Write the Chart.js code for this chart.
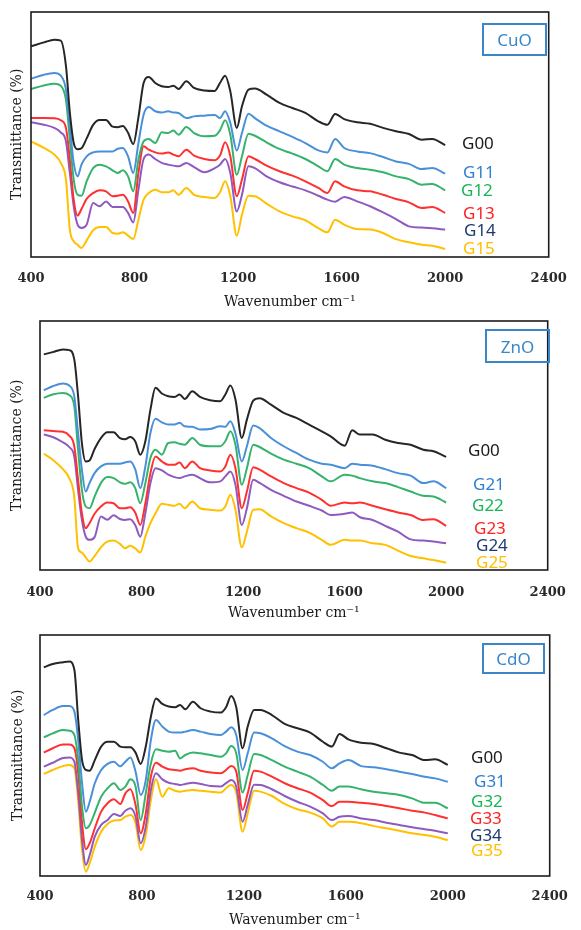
<!DOCTYPE html>
<html>
<head>
<meta charset="utf-8">
<title>FTIR spectra</title>
<script src="https://cdn.jsdelivr.net/npm/chart.js@4.4.1/dist/chart.umd.min.js"></script>
<style>
  html, body { margin: 0; padding: 0; background: #fff; }
  #page { position: relative; width: 581px; height: 930px; overflow: hidden; }
  #page canvas { position: absolute; left: 0; }
  .lbl { position: absolute; font-family: 'Noto Sans', sans-serif; font-size: 17px; line-height: 20px; white-space: nowrap; }
  .tag { position: absolute; box-sizing: border-box; border: 2px solid #3a86c8; color: #3a86c8;
         font-family: 'Noto Sans', sans-serif; font-size: 17px; display: flex; align-items: center; justify-content: center; }
</style>
</head>
<body>
<div id="page"></div>
<script>
// Wavenumber grids (cm-1) for each panel
const wnCuO = [400,450,490,515,535,550,565,580,595,615,640,665,690,715,735,755,775,795,815,835,855,880,905,930,950,970,1000,1030,1070,1110,1130,1150,1170,1195,1215,1240,1265,1310,1360,1410,1460,1510,1545,1575,1610,1660,1710,1760,1810,1860,1910,1950,2000];
const wnZnO = [415,450,490,515,535,550,565,580,595,615,640,665,690,715,735,755,775,795,815,835,855,880,905,930,950,970,1000,1030,1070,1110,1130,1150,1170,1195,1215,1240,1265,1310,1360,1410,1460,1510,1545,1600,1630,1660,1710,1760,1810,1860,1910,1950,2000];
const wnCdO = [415,450,490,515,535,550,565,580,595,615,640,665,690,715,735,755,775,795,815,835,855,880,905,930,950,970,1000,1030,1070,1110,1130,1150,1170,1195,1215,1240,1265,1310,1360,1410,1460,1510,1545,1575,1610,1660,1710,1760,1810,1860,1910,1950,2000];

// Transmittance (arbitrary units, offset stacked) - CuO panel
const cuoG00 = [86,87.6,88.7,88.3,78,59,46.5,44,44.4,48.4, 53.9,55.9,55.9,53.2,53,53.5,50.7,46.1,57,71, 73.5,71,69.7,69.4,69.9,68.6,71.7,69,68,67.8, 71,74,67.6,52.7,61.5,68.3,68.8,66.3,62.9,60.8, 58.8,55.4,54,58.4,56.3,55,54.4,52.7,51.3,50.2, 47.9,48.2,45.7];
const cuoG11 = [72.7,74.4,75.1,74,68.3,53.3,38.4,32.9,37.7,41.1, 42.7,43.1,43.1,43.1,44.2,44.5,41.1,34.3,46.5,58.1, 61.2,59.5,59,59.5,59,58.8,56.7,57.4,57.7,58, 56.7,59.5,54.7,43.5,50.6,58.5,56.7,53.6,51.3,49, 46.5,43.5,42.7,48.2,44.5,43.1,42.4,40.8,39,38, 35.9,36.3,34];
const cuoG12 = [68.6,70,70.7,69.9,64.2,47.9,31.6,25.4,25,30.9, 36.3,37.7,37,35.4,34.3,35.4,32.9,26.8,39.7,47.2, 48.2,46.5,50.9,50.6,51.6,49.9,53.1,50.6,49.3,49.5, 51.7,55.8,49.9,33.6,41.1,50.3,49.5,46.8,44.1,42.2, 40,37,35,40,37.7,36.3,35.6,34.6,32.9,31.8, 29.5,29.8,27.2];
const cuoG13 = [56.7,56.7,56.6,55.8,52.7,39.7,23.4,16.9,19.6,23.7, 26.1,27.2,26.8,24.8,25,25.4,22.7,18,34.3,45.2, 43.8,42.7,42.2,42.7,41.8,41.1,43.8,41.4,40,39.5, 41.4,46.8,41.1,24.8,31.6,41.1,40,37.3,35,33.2, 30.9,28.2,26.1,30.9,28.8,27.2,26.8,25.4,23.7,22.3, 20,20.4,18];
const cuoG14 = [55,54,52.7,50.9,47.2,34.3,20.7,13.2,11.8,13.2, 22,20.7,22.7,20.4,20.4,20.4,18,14.1,27.5,40, 41.8,40,38.4,37.7,37.3,37,38.4,36.7,34.6,36.3, 37.7,40,34.3,18.6,25.4,37,36.3,32.9,30.5,28.8, 27.2,25,23.4,22.6,24.5,22.7,20.7,18.2,15.5,12.5, 12,11.7,11.2];
const cuoG15 = [47.2,44.5,41.8,38.4,31.6,11.2,6.4,5,3.7,6.8, 10.9,12.2,12.2,9.8,9.5,10.1,8.7,7.3,15.2,23.4, 26.1,27.5,26.4,26.4,27.2,25.4,28.2,25.4,24.5,24.1, 26.4,30.9,24.8,8.7,17.3,25,24.8,21.8,18.6,16.6, 15,11.8,10.1,15.2,13.2,11.4,11.2,9.8,7.3,6, 5,4.6,3.3];

// ZnO panel
const znoG00 = [86.6,87.5,88.6,88.3,84.6,69.8,51,43.6,44,48.6, 53,55.3,55.3,53,52.5,53.4,51.7,46.3,51.7,64.4, 73.2,70.9,69.8,69.5,70.5,68.7,71.8,69.5,68.2,67.8, 70.5,74.1,68.5,53,60.4,68,69,66.4,63.1,61.1, 58.4,55.7,53.7,49.9,56.1,54.4,54.4,52.3,51,50.3, 48.3,47.7,45.4];
const znoG21 = [72.2,73.8,74.9,74.1,69.8,55,40.3,31.5,34.9,38.9, 41.6,42.7,42.7,42.7,43.2,43.6,40.5,32.9,41.6,55, 60.7,59.3,58.4,58.4,59.1,57.7,57.5,56.4,56.6,57.7, 57.5,59.7,54.8,43.6,49.7,58,57,53,49.7,47, 44.3,42.7,42.3,40.9,42.7,42.3,41.9,40.5,38.9,37.9, 34.9,35.6,32.9];
const znoG22 = [69.1,70.5,71.1,70.3,65.8,48.3,32.2,25.5,24.8,29.5, 34.9,37.3,36.9,35.2,34.6,35.2,32.9,26.8,34.9,45, 48.3,46.3,51,51.3,50.7,50.3,53,50.3,49.7,49.7, 51.7,55.7,50.3,34.2,40.9,50.3,49.4,46.7,44.3,42.7, 40.9,37.6,35.6,38.3,37.9,36.9,35.6,34.9,33.3,31.5, 29.8,29.5,27.1];
const znoG23 = [56.1,55.8,55.5,54,49.7,36.2,22.8,16.8,18.8,22.6, 25.5,27.1,26.8,24.8,24.8,25.2,23.1,18.1,26.8,38.9, 45.6,43.6,42.3,42.3,43.2,40.9,43.6,40.9,40,39.6, 41.6,46.3,40.9,24.8,31.5,41.3,40.3,37.6,34.9,32.9, 31.1,28.2,25.8,27.1,26.8,27.1,25.8,24.4,23.1,22.1, 20.1,20.4,17.7];
const znoG24 = [54.4,53.4,51.3,49.4,45.6,32.2,20.1,13.4,12.1,13.2, 21.5,20.2,22,20.5,20.1,20.4,18.1,13.4,22.8,34.9, 40.9,40,38.3,37.3,36.9,37.6,38.3,36.9,35.2,35.6, 37.6,39.6,34.2,18.1,24.8,36.2,35,32.2,29.8,27.5, 25.8,23.9,22.1,22.6,23.1,21.2,20.1,17.7,15.4,12.3, 11.8,11.4,10.7];
const znoG25 = [46.7,44.3,40.5,36.9,29.5,8.7,7,5.1,3.4,5.6, 9.1,11.4,11.8,10.5,8.7,9.7,8.7,7,13.4,18.8, 22.8,26.6,26.2,25.8,26.6,24.8,27.5,24.8,24.2,23.9, 25.5,30.2,24.2,9.1,15.4,24.2,24.4,21.5,18.8,16.8, 15,12.1,10.1,12.1,11.8,11.8,10.7,10.1,7.8,5.6, 4.7,4,2.9];

// CdO panel
const cdoG00 = [86.6,88,88.7,89,85.5,64.7,48.1,44,43.7,48.1, 53.7,55.7,55.7,53.7,53.4,53.4,51.2,46.5,53.7,66.1, 73.6,71.4,70.3,70,71,69.2,72.3,69.6,68.2,67.8, 70,74.7,70,53,62,68.9,68.9,66.8,63.1,61.3, 59.5,55.7,53.7,58.9,56.7,55.3,54.8,53,51.2,50.2, 48.1,48.4,46.1];
const cdoG31 = [66.8,68.9,70.5,70.5,68.2,56.4,38.5,26.7,30.8,38.5, 44,46.5,47.4,45.5,47.4,49.2,43.3,33.6,39.8,56.4, 64.7,62,59.9,59.5,59.5,59.9,60.6,59.9,58.9,58.5, 59.9,61.7,58.5,44,50.9,59.5,59.2,57.1,53.9,51.6, 50.2,47.4,44.7,46.7,48.1,45.6,45.1,44.3,43.3,42.3, 41.2,40.5,39.1];
const cdoG32 = [57.5,59.2,60.6,60.3,58.5,48.1,28.8,19.8,21.2,26.3, 32.9,36.4,38.5,35.7,37.1,40.1,37.1,23.2,34.3,46.7, 52.6,52,51.6,52,48.8,50.2,51.2,50.9,50.2,49.5, 50.9,53.9,50.9,34.6,41.9,50.6,50.2,48.1,45.4,43.3, 41.2,37.8,35.4,37.1,37.1,36,35,34.3,33.6,32.2, 30.4,30.4,28.1];
const cdoG33 = [51.2,53,54.6,54.6,53,42.6,21.9,11.1,13.6,19.8, 26.7,30.2,31.8,29.9,34.3,36,29.5,17.7,26,41.2, 47,45.4,44.3,44,43.7,44.3,44.7,43.7,42.9,42.6, 44,45.6,43.3,27.4,34.3,43.7,43.3,41.2,38.5,36.4, 34.6,31.5,29,30.8,30.8,30.4,29.9,29,28.1,27.1, 26.3,25.3,23.9];
const cdoG34 = [45.4,47,49,49.2,47.4,34.3,14.9,4.6,8.7,16.3, 21.2,23.2,25.7,24.9,27.1,28.1,24.6,13.6,20.5,35.7, 42.6,40.1,38.7,38.2,37.8,38.2,38.7,38.2,37.3,37.1, 38.5,39.8,37.1,22.5,29.5,37.9,37.8,36,33.2,30.8, 28.8,26,23.2,24.6,24.9,23.9,23.2,22.1,21.2,20.2, 19.4,18.8,17.7];
const cdoG35 = [42.3,44,45.6,46.1,44.7,30.8,10.8,1.8,5.3,12.2, 18.4,21.6,23,23.2,24.6,25.3,21.9,10.8,17,31.5, 40.1,32.9,36.4,35.4,35,35.4,35.7,35.4,35,34.6, 36.4,37.8,34.6,18.4,26,35.4,35,33.2,29.9,27.7, 26.3,23.9,20.5,22.5,22.5,21.9,20.7,19.8,18.8,17.7, 17,16.3,14.9];

const xTicks = [400, 800, 1200, 1600, 2000, 2400];

// Series colours (line / label)
const lineColors = ['#262626', '#4a90d9', '#35b36c', '#ff3030', '#8e5ac0', '#ffc000'];
const labelColors = ['#1a1a1a', '#2f80cf', '#19b45a', '#ff1f1f', '#1f3a6e', '#ffc000'];

// Layout of the three panels (absolute page pixels)
const panels = [
  { tag: 'CuO', wn: wnCuO, series: [cuoG00, cuoG11, cuoG12, cuoG13, cuoG14, cuoG15],
    names: ['G00', 'G11', 'G12', 'G13', 'G14', 'G15'],
    top: 0, height: 312, area: { left: 31, top: 12, right: 558, bottom: 257 },
    tickPad: 14.2, titlePad: 1.2, yTitlePad: 9.2,
    box: { left: 482, top: 23, w: 65, h: 33 },
    labels: [[462, 143], [463, 172], [461, 190], [463, 213], [464, 230], [463, 248]] },
  { tag: 'ZnO', wn: wnZnO, series: [znoG00, znoG21, znoG22, znoG23, znoG24, znoG25],
    names: ['G00', 'G21', 'G22', 'G23', 'G24', 'G25'],
    top: 310, height: 312, area: { left: 40, top: 11, right: 563, bottom: 260 },
    tickPad: 15.2, titlePad: 0.2, yTitlePad: 9.2,
    box: { left: 485, top: 329, w: 65, h: 34 },
    labels: [[468, 450], [473, 484], [472, 505], [474, 528], [476, 545], [476, 562]] },
  { tag: 'CdO', wn: wnCdO, series: [cdoG00, cdoG31, cdoG32, cdoG33, cdoG34, cdoG35],
    names: ['G00', 'G31', 'G32', 'G33', 'G34', 'G35'],
    top: 622, height: 308, area: { left: 40, top: 13, right: 558.5, bottom: 254 },
    tickPad: 13.2, titlePad: 1.2, yTitlePad: 10,
    box: { left: 482, top: 643, w: 63, h: 31 },
    labels: [[471, 757], [474, 781], [471, 801], [470, 818], [470, 835], [471, 850]] }
];

// Draws the rectangular frame round the plot area
const framePlugin = {
  id: 'frame',
  afterDraw(chart) {
    const { ctx, chartArea: a } = chart;
    ctx.save();
    ctx.strokeStyle = '#1c1c1c';
    ctx.lineWidth = 1.6;
    ctx.strokeRect(a.left, a.top, a.right - a.left, a.bottom - a.top);
    ctx.restore();
  }
};

const page = document.getElementById('page');
const serif = 'DejaVu Serif';

panels.forEach(p => {
  const canvas = document.createElement('canvas');
  canvas.width = 581;
  canvas.height = p.height;
  canvas.style.top = p.top + 'px';
  page.appendChild(canvas);

  const datasets = p.series.map((vals, i) => ({
    label: p.names[i],
    data: vals.map((v, k) => ({ x: p.wn[k], y: v })),
    borderColor: lineColors[i],
    borderWidth: 2,
    pointRadius: 0,
    fill: false,
    cubicInterpolationMode: 'monotone'
  }));

  new Chart(canvas, {
    type: 'line',
    data: { datasets },
    options: {
      responsive: false,
      animation: false,
      devicePixelRatio: 1,
      layout: { padding: { top: p.area.top, right: 581 - p.area.right, bottom: 0, left: 0 } },
      plugins: { legend: { display: false }, tooltip: { enabled: false } },
      scales: {
        x: {
          type: 'linear', min: 400, max: 2400,
          grid: { display: false, drawTicks: false },
          border: { display: false },
          afterBuildTicks: s => { s.ticks = xTicks.map(v => ({ value: v })); },
          ticks: { padding: p.tickPad, maxRotation: 0, autoSkip: false,
                   callback: v => String(v),
                   font: { family: serif, size: 13, weight: 'bold' }, color: '#2a2a2a' },
          title: { display: true, text: 'Wavenumber cm⁻¹', color: '#1a1a1a',
                   font: { family: serif, size: 14 }, padding: { top: 0, bottom: p.titlePad } },
          afterFit: s => { s.height = p.height - p.area.bottom; }
        },
        y: {
          min: 0, max: 100,
          grid: { display: false, drawTicks: false },
          border: { display: false },
          ticks: { display: false },
          title: { display: true, text: 'Transmittance (%)', color: '#1a1a1a',
                   font: { family: serif, size: 14 }, padding: { top: p.yTitlePad, bottom: 0 } },
          afterFit: s => { s.width = p.area.left; }
        }
      }
    },
    plugins: [framePlugin]
  });

  // Sample names at the end of the curves
  p.names.forEach((name, i) => {
    const el = document.createElement('div');
    el.className = 'lbl';
    el.textContent = name;
    el.style.color = labelColors[i];
    el.style.left = p.labels[i][0] + 'px';
    el.style.top = (p.labels[i][1] - 10) + 'px';
    page.appendChild(el);
  });

  // Oxide tag box
  const box = document.createElement('div');
  box.className = 'tag';
  box.textContent = p.tag;
  box.style.left = p.box.left + 'px';
  box.style.top = p.box.top + 'px';
  box.style.width = p.box.w + 'px';
  box.style.height = p.box.h + 'px';
  page.appendChild(box);
});
</script>
</body>
</html>
